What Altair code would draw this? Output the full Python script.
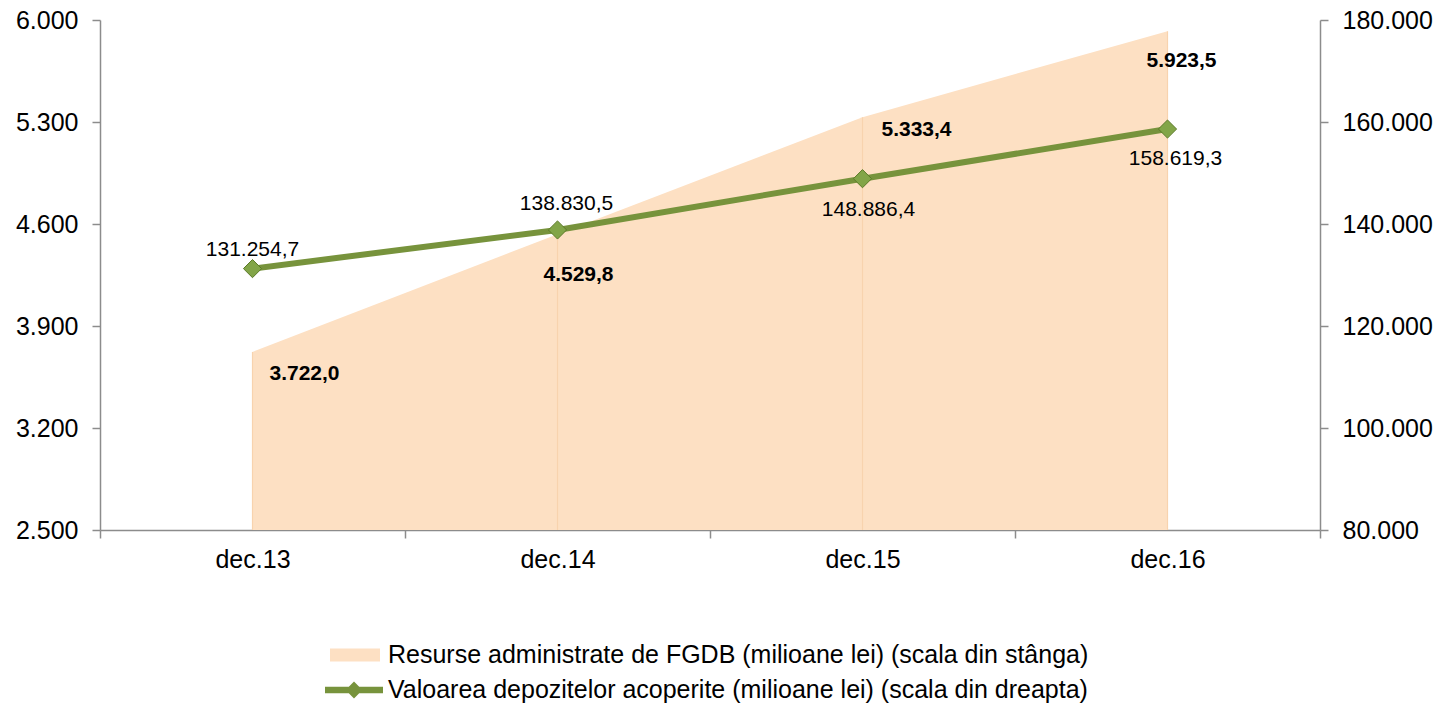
import json
import altair as alt
import pandas as pd

# ---------------- data ----------------
categories = ["dec.13", "dec.14", "dec.15", "dec.16"]
resurse = [3722.0, 4529.8, 5333.4, 5923.5]            # left scale
depozite = [131254.7, 138830.5, 148886.4, 158619.3]   # right scale
resurse_labels = ["3.722,0", "4.529,8", "5.333,4", "5.923,5"]
depozite_labels = ["131.254,7", "138.830,5", "148.886,4", "158.619,3"]
left_ticks = [2500, 3200, 3900, 4600, 5300, 6000]
right_ticks = [80000, 100000, 120000, 140000, 160000, 180000]
legend_area = "Resurse administrate de FGDB (milioane lei) (scala din stânga)"
legend_line = "Valoarea depozitelor acoperite (milioane lei) (scala din dreapta)"

# ---------------- styling ----------------
FONT = "Liberation Sans"
PEACH = "#FDE0C3"
GREEN = "#77933C"
AXIS_GREY = "#8C8C8C"
area_label_offsets = [(52, 22), (21, 41), (54, 13), (14, 30)]
line_label_offsets = [(0, -19), (9, -26), (6, 31), (8, 30)]

df = pd.DataFrame({
    "cat": categories,
    "pos": [i + 0.5 for i in range(len(categories))],
    "resurse": resurse,
    "depozite": depozite,
    "res_lab": resurse_labels,
    "dep_lab": depozite_labels,
    "s_area": legend_area,
    "s_line": legend_line,
})

n = len(categories)
cat_expr = json.dumps(categories)
x_enc = alt.X(
    "pos:Q",
    scale=alt.Scale(domain=[0, n], nice=False, zero=False),
    axis=alt.Axis(
        title=None,
        values=[v / 2 for v in range(0, 2 * n + 1)],
        labelExpr=f"datum.value % 1 == 0.5 ? {cat_expr}[floor(datum.value)] : ''",
        tickOpacity={"condition": {"test": "datum.value % 1 != 0", "value": 0}, "value": 1},
        grid=False,
        labelFontSize=25,
        labelPadding=9,
        labelFlush=False,
        labelOverlap=False,
    ),
)

thousands = "replace(format(datum.value, ',d'), ',', '.')"

y_left = alt.Y(
    "resurse:Q",
    scale=alt.Scale(domain=[left_ticks[0], left_ticks[-1]], nice=False, zero=False),
    axis=alt.Axis(title=None, values=left_ticks, labelExpr=thousands, grid=False,
                  orient="left", labelPadding=14, labelFontSize=25),
)
y_right = alt.Y(
    "depozite:Q",
    scale=alt.Scale(domain=[right_ticks[0], right_ticks[-1]], nice=False, zero=False),
    axis=alt.Axis(title=None, values=right_ticks, labelExpr=thousands, grid=False,
                  orient="right", labelPadding=14, labelFontSize=25),
)

base = alt.Chart(df)

area = base.mark_area(opacity=1).encode(
    x=x_enc,
    y=y_left,
    y2=alt.datum(left_ticks[0]),
    fill=alt.Fill(
        "s_area:N",
        scale=alt.Scale(range=[PEACH]),
        legend=alt.Legend(
            title=None, orient="none", legendX=230, legendY=610,
            symbolType="M-1,-0.26L1,-0.26L1,0.26L-1,0.26Z", symbolSize=2500,
            symbolStrokeWidth=0, symbolOpacity=1,
            labelFont=FONT, labelFontSize=25, labelColor="#000", labelOffset=8,
            labelLimit=0, padding=0,
        ),
    ),
)

rules = base.mark_rule(color="#F8D3AE", strokeWidth=1.2).encode(
    x=x_enc, y=y_left, y2=alt.datum(left_ticks[0])
)

area_labels = []
for cat, (dx, dy) in zip(categories, area_label_offsets):
    area_labels.append(
        base.transform_filter(alt.datum.cat == cat)
        .mark_text(font=FONT, fontSize=21, fontWeight="bold", color="#000",
                   dx=dx, dy=dy, align="center", baseline="middle")
        .encode(x=x_enc, y=y_left, text="res_lab:N")
    )

left = alt.layer(area, rules, *area_labels)

line = base.mark_line(strokeWidth=6).encode(
    x=x_enc,
    y=y_right,
    stroke=alt.Stroke(
        "s_line:N",
        scale=alt.Scale(range=[GREEN]),
        legend=alt.Legend(
            title=None, orient="none", legendX=225, legendY=641,
            symbolType="M-1,-0.11L1,-0.11L1,0.11L-1,0.11Z M0,-0.29L0.29,0L0,0.29L-0.29,0Z",
            symbolSize=3364, symbolFillColor=GREEN, symbolStrokeWidth=0, symbolOpacity=1,
            labelFont=FONT, labelFontSize=25, labelColor="#000", labelOffset=5,
            labelLimit=0, padding=0,
        ),
    ),
)

points = base.mark_point(shape="diamond", filled=True, size=330, fill="#82A548",
                         stroke="#5B7A28", strokeWidth=1, opacity=1).encode(
    x=x_enc, y=y_right
)

line_labels = []
for cat, (dx, dy) in zip(categories, line_label_offsets):
    line_labels.append(
        base.transform_filter(alt.datum.cat == cat)
        .mark_text(font=FONT, fontSize=21, color="#000", dx=dx, dy=dy,
                   align="center", baseline="middle")
        .encode(x=x_enc, y=y_right, text="dep_lab:N")
    )

right = alt.layer(line, points, *line_labels)

chart = (
    alt.layer(left, right)
    .resolve_scale(y="independent")
    .properties(
        width=1220,
        height=510,
        autosize=alt.AutoSizeParams(type="none"),
        padding={"left": 100, "top": 20, "right": 124, "bottom": 175},
        background="white",
    )
    .configure_view(stroke=None)
    .configure_axis(
        domainColor=AXIS_GREY,
        tickColor=AXIS_GREY,
        domainWidth=1.5,
        tickWidth=1.5,
        tickSize=8,
        labelFont=FONT,
        labelColor="#000",
    )
)

chart.save("out.html", embed_options={"renderer": "svg", "actions": False})
